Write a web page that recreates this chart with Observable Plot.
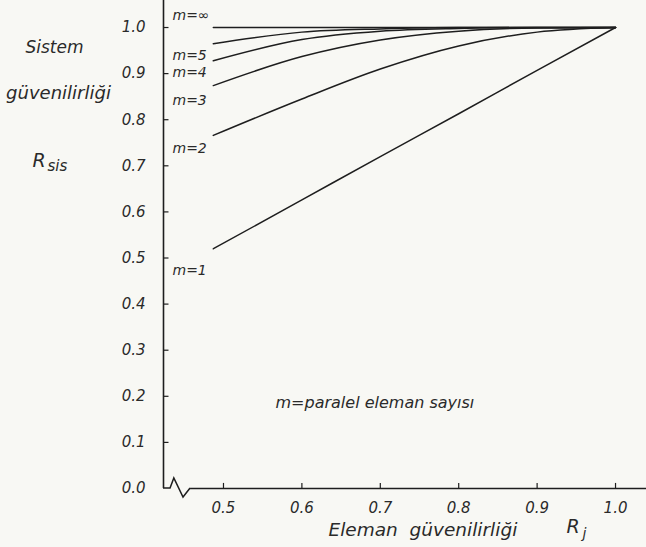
<!DOCTYPE html>
<html>
<head>
<meta charset="utf-8">
<script src="https://cdn.jsdelivr.net/npm/d3@7"></script>
<script src="https://cdn.jsdelivr.net/npm/@observablehq/plot@0.6"></script>
<style>
  html, body { margin: 0; padding: 0; background: #f8f8f4; }
  #chart { width: 646px; height: 547px; }
</style>
</head>
<body>
<div id="chart"></div>
<script>
// Element reliability values (x) at which curves were read
const Rj = [0.487, 0.6, 0.7, 0.8, 0.9, 1.0];
// System reliability for m parallel elements
const m1 = [0.52, 0.626, 0.72, 0.813, 0.907, 1.0];
const m2 = [0.766, 0.845, 0.91, 0.96, 0.99, 1.0];
const m3 = [0.874, 0.937, 0.973, 0.992, 0.999, 1.0];
const m4 = [0.928, 0.974, 0.992, 0.998, 1.0, 1.0];
const m5 = [0.965, 0.99, 0.997, 1.0, 1.0, 1.0];
const mInf = [1.0, 1.0, 1.0, 1.0, 1.0, 1.0];
const seriesNames = ["m=1", "m=2", "m=3", "m=4", "m=5", "m=\u221e"];
const seriesValues = [m1, m2, m3, m4, m5, mInf];
// curve labels and their vertical positions
const labelText = ["m=\u221e", "m=5", "m=4", "m=3", "m=2", "m=1"];
const labelY = [1.026, 0.939, 0.902, 0.842, 0.738, 0.473];

const yTicks = [0.0, 0.1, 0.2, 0.3, 0.4, 0.5, 0.6, 0.7, 0.8, 0.9, 1.0];
const xTicks = [0.5, 0.6, 0.7, 0.8, 0.9, 1.0];

const xMin = 0.4235, xMax = 1.0395, yMax = 1.0586;
const xBreak = 0.458;

const rows = [];
seriesNames.forEach((name, i) => {
  Rj.forEach((r, j) => rows.push({ m: name, R: r, v: seriesValues[i][j] }));
});

const ink = "#1e1e1e";
const txt = "#2a2a2a";
const font = "'DejaVu Sans', sans-serif";
const T = { fontStyle: "italic", fill: txt, lineAnchor: "middle", frameAnchor: "top-left" };

const plot = Plot.plot({
  width: 646,
  height: 547,
  marginLeft: 163,
  marginRight: 0,
  marginTop: 0,
  marginBottom: 59,
  style: { background: "#f8f8f4", fontFamily: font, overflow: "visible" },
  x: { domain: [xMin, xMax], axis: null },
  y: { domain: [0, yMax], axis: null },
  marks: [
    // axes
    Plot.ruleX([xMin], { y1: 0, y2: yMax, stroke: ink, strokeWidth: 1.6 }),
    Plot.ruleY([0], { x1: xBreak, x2: xMax, stroke: ink, strokeWidth: 1.6 }),
    Plot.ruleY(yTicks.slice(1), { x1: xMin, x2: xMin + 0.007, stroke: ink, strokeWidth: 1.2 }),
    Plot.ruleX(xTicks, { y1: 0, y2: 0.011, stroke: ink, strokeWidth: 1.2 }),
    Plot.text(yTicks, { x: xMin, y: d => d, text: d => d.toFixed(1), dx: -18, textAnchor: "end",
      fontStyle: "italic", fontSize: 15, fill: txt }),
    Plot.text(xTicks, { x: d => d, y: 0, text: d => d.toFixed(1), dy: 20,
      fontStyle: "italic", fontSize: 15, fill: txt }),
    // curves
    Plot.line(rows, { x: "R", y: "v", z: "m", curve: "monotone-x", stroke: ink, strokeWidth: 1.5 }),
    // curve labels
    Plot.text(labelText, { x: xMin, y: (d, i) => labelY[i], text: d => d, dx: 9, textAnchor: "start",
      fontStyle: "italic", fontSize: 14, fill: txt }),
    // annotations
    Plot.text(["m=paralel eleman sayısı"], { ...T, dx: 112, dy: 402, textAnchor: "start", fontSize: 16 }),
    Plot.text(["Sistem"], { ...T, dx: -109, dy: 47, textAnchor: "middle", fontSize: 17 }),
    Plot.text(["güvenilirliği"], { ...T, dx: -105, dy: 93, textAnchor: "middle", fontSize: 18 }),
    Plot.text(["R"], { ...T, dx: -131, dy: 160, textAnchor: "start", fontSize: 19 }),
    Plot.text(["sis"], { ...T, dx: -116, dy: 166, textAnchor: "start", fontSize: 15 }),
    Plot.text(["Eleman  güvenilirliği"], { ...T, dx: 165, dy: 530, textAnchor: "start", fontSize: 18.5 }),
    Plot.text(["R"], { ...T, dx: 403, dy: 526, textAnchor: "start", fontSize: 19 }),
    Plot.text(["j"], { ...T, dx: 419, dy: 533, textAnchor: "start", fontSize: 14 })
  ]
});

// axis break zigzag at the lower-left corner, positioned via the scales
const sx = plot.scale("x"), sy = plot.scale("y");
const x0 = sx.apply(xMin), x1 = sx.apply(xBreak), y0 = sy.apply(0);
const w = x1 - x0;
const zig = document.createElementNS("http://www.w3.org/2000/svg", "path");
zig.setAttribute("d",
  `M${x0},${y0} L${x0 + w * 0.26},${y0} L${x0 + w * 0.4},${y0 - 10} L${x0 + w * 0.74},${y0 + 9} L${x1},${y0}`);
zig.setAttribute("fill", "none");
zig.setAttribute("stroke", ink);
zig.setAttribute("stroke-width", "1.5");
plot.appendChild(zig);

document.getElementById("chart").appendChild(plot);
</script>
</body>
</html>
